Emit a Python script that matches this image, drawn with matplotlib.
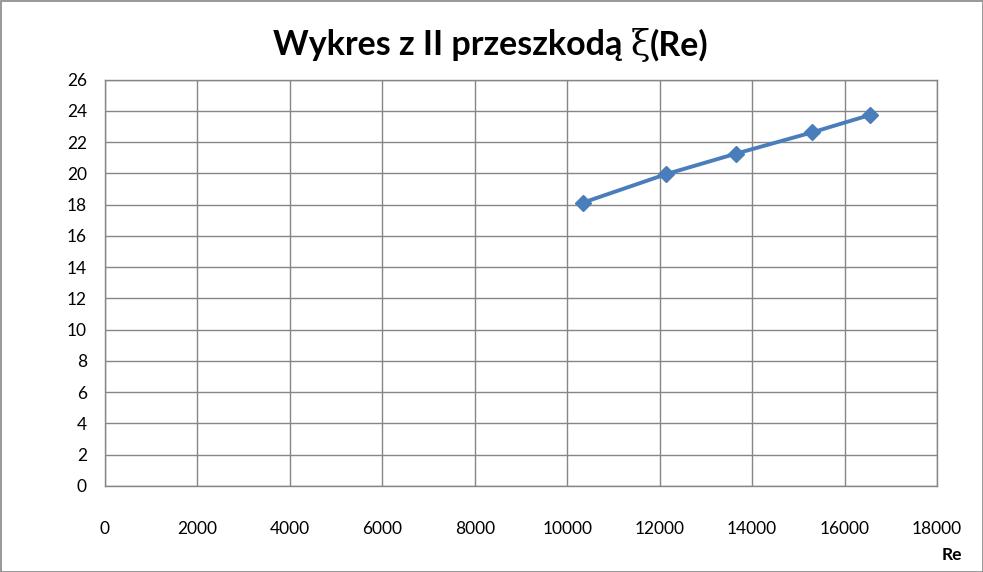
import matplotlib
matplotlib.use("Agg")
import matplotlib.pyplot as plt
from matplotlib.patches import Rectangle

re_vals = [10347, 12144, 13642, 15302, 16560]
xi_vals = [18.13, 19.95, 21.25, 22.62, 23.74]
x_ticks = list(range(0, 18001, 2000))
y_ticks = list(range(0, 27, 2))

plt.rcParams['font.family'] = ['Lato', 'DejaVu Sans']

W, H = 983, 572
fig = plt.figure(figsize=(9.83, 5.72), dpi=100)
ax = fig.add_axes([105/W, 1-486/H, (937-105)/W, (486-79.5)/H])

grid_c = '#868686'
ax.plot(re_vals, xi_vals, color='#4A7EBB', lw=2.8, marker='D', ms=8.5,
        markerfacecolor='#4A7EBB', markeredgecolor='#4A7EBB', zorder=3)
ax.set_xlim(0, 18000)
ax.set_ylim(0, 26)
ax.set_xticks(x_ticks)
ax.set_yticks(y_ticks)
ax.set_xticklabels([str(t) for t in x_ticks])
ax.set_yticklabels([str(t) for t in y_ticks])
ax.grid(True, color=grid_c, lw=1.0)
ax.set_axisbelow(True)
for s in ax.spines.values():
    s.set_color(grid_c)
    s.set_linewidth(1.0)
ax.tick_params(axis='both', length=0, labelsize=12.5, colors='black')
ax.tick_params(axis='x', pad=25)
ax.tick_params(axis='y', pad=13)

# title in pieces, centred as a whole
ty = 1 - 45/H
parts = [('Wykres z II przeszkodą ', dict(fontsize=24.5, fontweight='bold')),
         ('ξ', dict(fontsize=25.5, family='DejaVu Serif')),
         ('(Re)', dict(fontsize=24.5, fontweight='bold'))]
texts = [fig.text(0, ty, s, ha='left', va='center', **kw) for s, kw in parts]
fig.canvas.draw()
r = fig.canvas.get_renderer()
widths = [t.get_window_extent(r).width for t in texts]
total = sum(widths)
x0 = 491 - total/2
for t, w in zip(texts, widths):
    t.set_x(x0/W)
    x0 += w

fig.text(952/W, 1-555/H, 'Re', fontsize=12.5, fontweight='bold', ha='center', va='center')

fig.patches.append(Rectangle((0.5/W, 0.5/H), 1-1/W, 1-1/H, transform=fig.transFigure,
                             fill=False, edgecolor='#868686', lw=1.2))
fig.savefig('out.png', dpi=100)
